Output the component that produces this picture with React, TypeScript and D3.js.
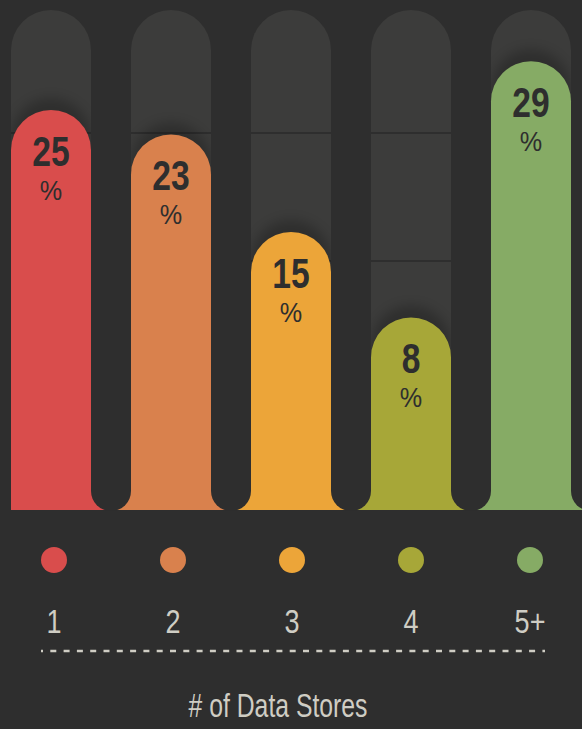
import React from "react";
import * as d3 from "d3";

// share of respondents by number of data stores
const categories = ["1", "2", "3", "4", "5+"];
const shares = [25, 23, 15, 8, 29];
const colors = ["#d94d4c", "#d9814d", "#eca539", "#a7a738", "#86ab65"];
const axisTitle = "# of Data Stores";

const W = 582;
const H = 729;
const BG = "#2e2e2e";
const TRACK = "#3c3c3b";
const TEXT = "#cfcdc4";
const FONT = "'Liberation Sans', Arial, sans-serif";

const baseY = 510;
const trackTop = 10;

// condensed look: squeeze normal-width glyphs horizontally
function NarrowText({ x, y, sx, children, ...rest }) {
  return (
    <g transform={`translate(${x},${y}) scale(${sx},1)`}>
      <text x={0} y={0} fontFamily={FONT} textAnchor="middle" {...rest}>
        {children}
      </text>
    </g>
  );
}

export default function App() {
  const x = d3.scaleBand().domain(categories).range([11, 571]).paddingInner(1 / 3).paddingOuter(0);
  const bw = x.bandwidth();
  const r = bw / 2;
  const gap = x.step() - bw;

  const y = d3.scaleLinear().domain([0, 30]).range([415, 49]);

  const px = d3.scalePoint().domain(categories).range([54, 530]);

  // track dividers every 128px up from the base
  const dividers = d3.range(1, 4).map((k) => baseY + 6 - k * 128);

  const capPath = (x0, top, bottom) => {
    const p = d3.path();
    p.moveTo(x0, bottom);
    p.lineTo(x0, top + r);
    p.arc(x0 + r, top + r, r, Math.PI, 0);
    p.lineTo(x0 + bw, bottom);
    p.closePath();
    return p.toString();
  };

  const gapPath = (gx0) => {
    const gr = gap / 2;
    const p = d3.path();
    p.moveTo(gx0, 300);
    p.lineTo(gx0, baseY + 1 - gr);
    p.arc(gx0 + gr, baseY + 1 - gr, gr, Math.PI, 0, true);
    p.lineTo(gx0 + gap, 300);
    p.closePath();
    return p.toString();
  };

  return (
    <svg width={W} height={H} style={{ position: "absolute", left: 0, top: 0, display: "block" }}>
      <defs>
        <filter id="soft" x="-30%" y="-30%" width="160%" height="160%">
          <feGaussianBlur stdDeviation="6" />
        </filter>
        {categories.map((c, i) => (
          <clipPath id={"track" + i} key={c}>
            <path d={capPath(x(c), trackTop, baseY)} />
          </clipPath>
        ))}
      </defs>
      <rect width={W} height={H} fill={BG} />

      {/* background tracks */}
      {categories.map((c) => (
        <path key={"t" + c} d={capPath(x(c), trackTop, baseY)} fill={TRACK} />
      ))}
      {categories.map((c, i) => (
        <g key={"d" + c} clipPath={`url(#track${i})`}>
          {dividers.map((d) => (
            <rect key={d} x={x(c)} y={d} width={bw} height={2} fill={BG} />
          ))}
        </g>
      ))}

      {/* shadows above the bars */}
      {categories.map((c, i) => (
        <g key={"s" + c} clipPath={`url(#track${i})`}>
          <path
            d={capPath(x(c), y(shares[i]), baseY)}
            transform="translate(0,-12)"
            fill="#000"
            opacity={0.22}
            filter="url(#soft)"
          />
        </g>
      ))}

      {/* bars */}
      {categories.map((c, i) => (
        <g key={"b" + c}>
          <path d={capPath(x(c), y(shares[i]), baseY)} fill={colors[i]} />
          <rect
            x={i === 0 ? x(c) : x(c) - gap / 2}
            y={baseY - 40}
            width={i === 0 ? bw + gap / 2 : bw + gap}
            height={40}
            fill={colors[i]}
          />
        </g>
      ))}

      {/* rounded gaps between bars */}
      {categories.map((c) => (
        <path key={"g" + c} d={gapPath(x(c) + bw)} fill={BG} />
      ))}

      {/* value labels: number with % below it */}
      {categories.map((c, i) => (
        <g key={"l" + c} fill={BG}>
          <NarrowText x={x(c) + r} y={y(shares[i]) + 56} sx={0.8} fontSize={42} fontWeight="bold">
            {shares[i]}
          </NarrowText>
          <NarrowText x={x(c) + r} y={y(shares[i]) + 90} sx={0.9} fontSize={28}>
            %
          </NarrowText>
        </g>
      ))}

      {/* legend dots and category labels */}
      {categories.map((c, i) => (
        <g key={"k" + c}>
          <circle cx={px(c)} cy={560} r={13} fill={colors[i]} />
          <NarrowText x={px(c)} y={633} sx={0.82} fontSize={33} fill={TEXT}>
            {c}
          </NarrowText>
        </g>
      ))}

      <line
        x1={41}
        x2={545}
        y1={651}
        y2={651}
        stroke={TEXT}
        strokeWidth={2.5}
        strokeDasharray="6 7.3"
        strokeDashoffset={4}
      />

      <NarrowText x={278} y={717} sx={0.75} fontSize={33} fill={TEXT}>
        {axisTitle}
      </NarrowText>
    </svg>
  );
}
